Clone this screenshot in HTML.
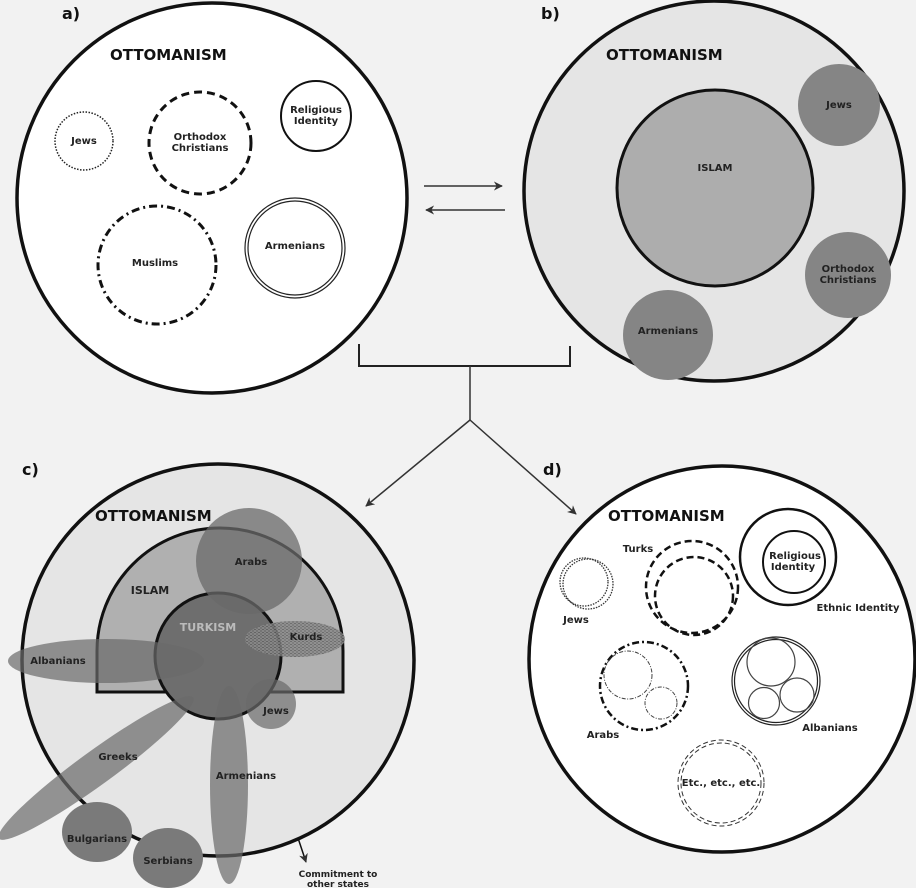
<!DOCTYPE html>
<html><head><meta charset="utf-8"><style>
html,body{margin:0;padding:0;background:#f2f2f2}
svg{display:block}
text{font-family:"DejaVu Sans","Liberation Sans",sans-serif;font-weight:bold;fill:#222}
.s{font-size:10px}
.t{font-size:15px;fill:#111}
.h{font-size:16px;fill:#111}
</style></head><body>
<svg width="916" height="888" viewBox="0 0 916 888" xmlns="http://www.w3.org/2000/svg">
<defs>
<marker id="ar" viewBox="0 0 10 10" refX="9" refY="5" markerWidth="9" markerHeight="9" orient="auto-start-reverse" markerUnits="userSpaceOnUse"><path d="M0,0 L10,5 L0,10 L3,5 z" fill="#333"/></marker>
<pattern id="kp" width="4" height="3" patternUnits="userSpaceOnUse"><rect width="4" height="3" fill="#8a8a8a"/><path d="M0,1 h2 M2,2.5 h2" stroke="#555" stroke-width="0.8"/></pattern>
</defs>
<rect width="916" height="888" fill="#f2f2f2"/>
<text x="62" y="19" class="h" text-anchor="start">a)</text>
<text x="541" y="19" class="h">b)</text>
<text x="22" y="475" class="h">c)</text>
<text x="543" y="475" class="h">d)</text>

<!-- a -->
<circle cx="212" cy="198" r="195" fill="#fff" stroke="#111" stroke-width="3.5"/>
<text x="110" y="60" class="t">OTTOMANISM</text>
<circle cx="84" cy="141" r="29" fill="none" stroke="#222" stroke-width="1.5" stroke-dasharray="1.5 1.5"/>
<text x="84" y="144" class="s" text-anchor="middle">Jews</text>
<circle cx="200" cy="143" r="51" fill="none" stroke="#111" stroke-width="3" stroke-dasharray="8 5"/>
<text x="200" y="140" class="s" text-anchor="middle">Orthodox</text>
<text x="200" y="151" class="s" text-anchor="middle">Christians</text>
<circle cx="316" cy="116" r="35" fill="none" stroke="#111" stroke-width="2"/>
<text x="316" y="113" class="s" text-anchor="middle">Religious</text>
<text x="316" y="124" class="s" text-anchor="middle">Identity</text>
<circle cx="157" cy="265" r="59" fill="none" stroke="#111" stroke-width="3" stroke-dasharray="8 4 2 4"/>
<text x="155" y="266" class="s" text-anchor="middle">Muslims</text>
<circle cx="295" cy="248" r="50" fill="none" stroke="#222" stroke-width="1.2"/>
<circle cx="295" cy="248" r="47" fill="none" stroke="#222" stroke-width="1.2"/>
<text x="295" y="249" class="s" text-anchor="middle">Armenians</text>

<!-- arrows a<->b -->
<line x1="424" y1="186" x2="502" y2="186" stroke="#333" stroke-width="1.5" marker-end="url(#ar)"/>
<line x1="505" y1="210" x2="426" y2="210" stroke="#333" stroke-width="1.5" marker-end="url(#ar)"/>

<!-- b -->
<circle cx="714" cy="191" r="190" fill="#e5e5e5" stroke="#111" stroke-width="3.5"/>
<text x="606" y="60" class="t">OTTOMANISM</text>
<circle cx="715" cy="188" r="98" fill="#adadad" stroke="#111" stroke-width="3"/>
<text x="715" y="171" class="s" text-anchor="middle">ISLAM</text>
<circle cx="839" cy="105" r="41" fill="#858585"/>
<text x="839" y="108" class="s" text-anchor="middle">Jews</text>
<circle cx="848" cy="275" r="43" fill="#858585"/>
<text x="848" y="272" class="s" text-anchor="middle">Orthodox</text>
<text x="848" y="283" class="s" text-anchor="middle">Christians</text>
<circle cx="668" cy="335" r="45" fill="#858585"/>
<text x="668" y="334" class="s" text-anchor="middle">Armenians</text>

<!-- bracket -->
<path d="M359,344 V366 H570 V346" fill="none" stroke="#222" stroke-width="2"/>
<line x1="470" y1="366" x2="470" y2="420" stroke="#333" stroke-width="1.5"/>
<line x1="470" y1="420" x2="366" y2="506" stroke="#333" stroke-width="1.5" marker-end="url(#ar)"/>
<line x1="470" y1="420" x2="576" y2="514" stroke="#333" stroke-width="1.5" marker-end="url(#ar)"/>

<!-- c -->
<circle cx="218" cy="660" r="196" fill="#e5e5e5" stroke="#111" stroke-width="3.5"/>
<text x="95" y="521" class="t">OTTOMANISM</text>
<path d="M97,692 V651 A123,123 0 0 1 343,651 V692 Z" fill="#b0b0b0" stroke="#111" stroke-width="3"/>
<text x="150" y="594" class="s" text-anchor="middle" style="font-size:11px">ISLAM</text>
<circle cx="218" cy="656" r="63" fill="#6e6e6e" stroke="#111" stroke-width="3"/>
<text x="208" y="631" class="s" text-anchor="middle" style="font-size:11px;fill:#bbb">TURKISM</text>
<circle cx="249" cy="561" r="53" fill="#6a6a6a" fill-opacity="0.75"/>
<text x="251" y="565" class="s" text-anchor="middle">Arabs</text>
<ellipse cx="295" cy="639" rx="50" ry="18" fill="url(#kp)" fill-opacity="0.85"/>
<text x="306" y="640" class="s" text-anchor="middle">Kurds</text>
<ellipse cx="106" cy="661" rx="98" ry="22" fill="#6a6a6a" fill-opacity="0.7"/>
<text x="58" y="664" class="s" text-anchor="middle">Albanians</text>
<circle cx="271" cy="704" r="25" fill="#6a6a6a" fill-opacity="0.7"/>
<text x="276" y="714" class="s" text-anchor="middle">Jews</text>
<ellipse cx="96" cy="768" rx="120" ry="17" transform="rotate(-36 96 768)" fill="#6a6a6a" fill-opacity="0.7"/>
<text x="118" y="760" class="s" text-anchor="middle">Greeks</text>
<ellipse cx="229" cy="785" rx="19" ry="99" fill="#6a6a6a" fill-opacity="0.7"/>
<text x="246" y="779" class="s" text-anchor="middle">Armenians</text>
<ellipse cx="97" cy="832" rx="35" ry="30" fill="#7a7a7a"/>
<text x="97" y="842" class="s" text-anchor="middle">Bulgarians</text>
<ellipse cx="168" cy="858" rx="35" ry="30" fill="#7a7a7a"/>
<text x="168" y="864" class="s" text-anchor="middle">Serbians</text>
<line x1="298" y1="838" x2="306" y2="862" stroke="#111" stroke-width="1.5" marker-end="url(#ar)"/>
<text x="338" y="877" class="s" text-anchor="middle" style="font-size:9px">Commitment to</text>
<text x="338" y="887" class="s" text-anchor="middle" style="font-size:9px">other states</text>

<!-- d -->
<circle cx="722" cy="659" r="193" fill="#fff" stroke="#111" stroke-width="3.5"/>
<text x="608" y="521" class="t">OTTOMANISM</text>
<circle cx="588" cy="584" r="25" fill="none" stroke="#333" stroke-width="1.3" stroke-dasharray="1.5 1.2"/>
<circle cx="584" cy="582" r="24" fill="none" stroke="#333" stroke-width="1.3" stroke-dasharray="1.5 1.2"/>
<text x="576" y="623" class="s" text-anchor="middle">Jews</text>
<circle cx="692" cy="587" r="46" fill="none" stroke="#111" stroke-width="2.5" stroke-dasharray="7 4"/>
<circle cx="694" cy="596" r="39" fill="none" stroke="#111" stroke-width="2.5" stroke-dasharray="7 4"/>
<text x="638" y="552" class="s" text-anchor="middle">Turks</text>
<circle cx="788" cy="557" r="48" fill="none" stroke="#111" stroke-width="2.5"/>
<circle cx="794" cy="562" r="31" fill="none" stroke="#111" stroke-width="2"/>
<text x="795" y="559" class="s" text-anchor="middle">Religious</text>
<text x="793" y="570" class="s" text-anchor="middle">Identity</text>
<text x="858" y="611" class="s" text-anchor="middle">Ethnic Identity</text>
<circle cx="644" cy="686" r="44" fill="none" stroke="#111" stroke-width="2.5" stroke-dasharray="7 3 2 3"/>
<circle cx="628" cy="675" r="24" fill="none" stroke="#444" stroke-width="1" stroke-dasharray="4 1.5 1 1.5"/>
<circle cx="661" cy="703" r="16" fill="none" stroke="#444" stroke-width="1" stroke-dasharray="4 1.5 1 1.5"/>
<text x="603" y="738" class="s" text-anchor="middle">Arabs</text>
<circle cx="776" cy="681" r="44" fill="none" stroke="#222" stroke-width="1.2"/>
<circle cx="776" cy="681" r="41.5" fill="none" stroke="#222" stroke-width="1.2"/>
<circle cx="771" cy="662" r="24" fill="none" stroke="#444" stroke-width="1.2"/>
<circle cx="764" cy="703" r="15.5" fill="none" stroke="#444" stroke-width="1.2"/>
<circle cx="797" cy="695" r="17" fill="none" stroke="#444" stroke-width="1.2"/>
<text x="830" y="731" class="s" text-anchor="middle">Albanians</text>
<circle cx="721" cy="783" r="43" fill="none" stroke="#333" stroke-width="1" stroke-dasharray="5 3"/>
<circle cx="721" cy="783" r="40" fill="none" stroke="#333" stroke-width="1" stroke-dasharray="5 3"/>
<text x="721" y="786" class="s" text-anchor="middle">Etc., etc., etc.</text>
</svg>
</body></html>
